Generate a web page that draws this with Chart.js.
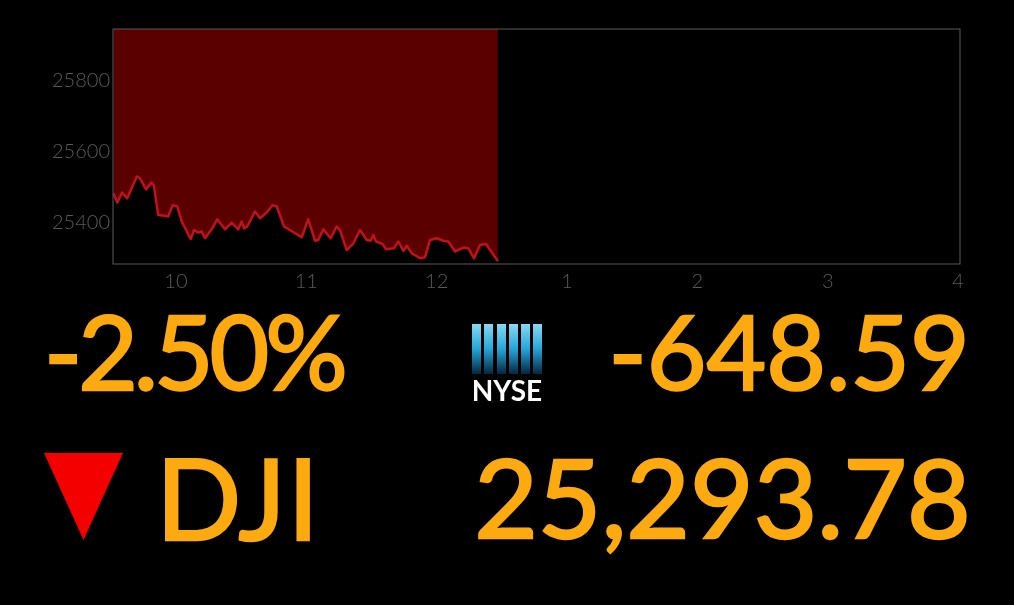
<!DOCTYPE html>
<html>
<head>
<meta charset="utf-8">
<script src="https://cdn.jsdelivr.net/npm/chart.js@4/dist/chart.umd.min.js"></script>
<style>
html, body { margin: 0; background: #000; width: 1014px; height: 605px; overflow: hidden; }
#miGrafico { position: absolute; left: 0; top: 0; }
.big { position: absolute; color: #fdaa10; font-family: Lato, sans-serif; font-weight: 400; font-size: 112px; line-height: 112px; white-space: nowrap; -webkit-text-stroke: 2.5px #fdaa10; transform-origin: right center; }
.bar { position: absolute; top: 324px; width: 9px; height: 50px; background: linear-gradient(#86daf2, #23a6da 50%, #06263e); }
#logoText { position: absolute; left: 470px; top: 376px; width: 74px; text-align: center; color: #fff; font: 700 28px Lato, sans-serif; line-height: 28px; }
#triangle { position: absolute; left: 44px; top: 453px; width: 79px; height: 87px; background: #f50000; clip-path: polygon(0 0, 100% 0, 50% 100%); }
</style>
</head>
<body>
<canvas id="miGrafico" width="1014" height="605"></canvas>
<div class="big" id="pct" style="right:670px;top:294px;letter-spacing:-4.5px;transform:scale(.92,.92);">-2.50%</div>
<div class="big" id="chg" style="right:44px;top:294px;transform:scale(.92,.92);">-648.59</div>
<div class="big" id="name" style="left:156px;top:441px;letter-spacing:1.5px;">DJI</div>
<div class="big" id="last" style="right:43px;top:440px;transform:scale(.98,.97);">25,293.78</div>
<div id="triangle"></div>
<div class="bar" style="left:472px"></div>
<div class="bar" style="left:484px"></div>
<div class="bar" style="left:497px"></div>
<div class="bar" style="left:509px"></div>
<div class="bar" style="left:521px"></div>
<div class="bar" style="left:533px"></div>
<div id="logoText">NYSE</div>
<script>
// hours of the session, 9.5 = 9:30
const horas = [9.52,9.55,9.586,9.626,9.66,9.70,9.724,9.77,9.813,9.83,9.864,9.916,9.94,9.975,10.01,10.044,10.113,10.138,10.171,10.197,10.223,10.274,10.317,10.376,10.427,10.478,10.504,10.522,10.547,10.606,10.645,10.696,10.742,10.773,10.829,10.965,11.015,11.067,11.092,11.13,11.187,11.233,11.259,11.31,11.361,11.412,11.464,11.494,11.514,11.535,11.586,11.612,11.673,11.706,11.745,11.771,11.809,11.873,11.911,11.949,12.0,12.051,12.09,12.141,12.205,12.243,12.287,12.333,12.379,12.41,12.47];
const valores = [25483,25457,25485,25469,25497,25530,25525,25494,25513,25506,25422,25420,25418,25450,25446,25404,25355,25380,25373,25376,25357,25382,25410,25382,25401,25382,25404,25385,25390,25432,25413,25429,25450,25446,25390,25360,25410,25350,25352,25382,25357,25390,25380,25324,25343,25380,25352,25350,25366,25348,25341,25326,25329,25348,25322,25336,25315,25301,25304,25352,25357,25350,25348,25320,25331,25329,25301,25338,25341,25324,25293];
const yTicks = [25400, 25600, 25800];
const xTicks = [10, 11, 12, 13, 14, 15, 16];
const xLabels = ['10', '11', '12', '1', '2', '3', '4'];

const puntos = horas.map((h, i) => ({ x: h, y: valores[i] }));

const marco = {
    id: 'marco',
    afterDatasetsDraw(chart) {
        const a = chart.chartArea;
        const ctx = chart.ctx;
        ctx.save();
        ctx.strokeStyle = '#5a5a5a';
        ctx.lineWidth = 1;
        ctx.strokeRect(a.left, a.top, a.right - a.left, a.bottom - a.top);
        ctx.restore();
    }
};

new Chart(document.getElementById('miGrafico'), {
    type: 'line',
    data: {
        datasets: [{
            data: puntos,
            borderColor: '#c2101c',
            borderWidth: 2.5,
            borderJoinStyle: 'round',
            backgroundColor: '#5a0000',
            fill: 'end',
            pointRadius: 0,
            tension: 0
        }]
    },
    options: {
        responsive: false,
        animation: false,
        layout: { padding: { top: 29, right: 54, left: 0, bottom: 0 } },
        plugins: { legend: { display: false }, tooltip: { enabled: false } },
        scales: {
            x: {
                type: 'linear',
                min: 9.517,
                max: 16.015,
                grid: { display: false, drawTicks: false },
                border: { display: false },
                afterBuildTicks: s => { s.ticks = xTicks.map(v => ({ value: v })); },
                afterFit: s => { s.height = 341; },
                ticks: {
                    color: '#5a5a5a',
                    maxRotation: 0,
                    autoSkip: false,
                    padding: 6,
                    font: { family: 'Lato', size: 20, weight: '300' },
                    callback: v => xLabels[xTicks.indexOf(v)]
                }
            },
            y: {
                min: 25285,
                max: 25943,
                grid: { display: false, drawTicks: false },
                border: { display: false },
                afterBuildTicks: s => { s.ticks = yTicks.map(v => ({ value: v })); },
                afterFit: s => { s.width = 113; },
                ticks: {
                    color: '#5a5a5a',
                    padding: 3,
                    font: { family: 'Lato', size: 20, weight: '300' },
                    callback: v => String(v)
                }
            }
        }
    },
    plugins: [marco]
});
</script>
</body>
</html>
